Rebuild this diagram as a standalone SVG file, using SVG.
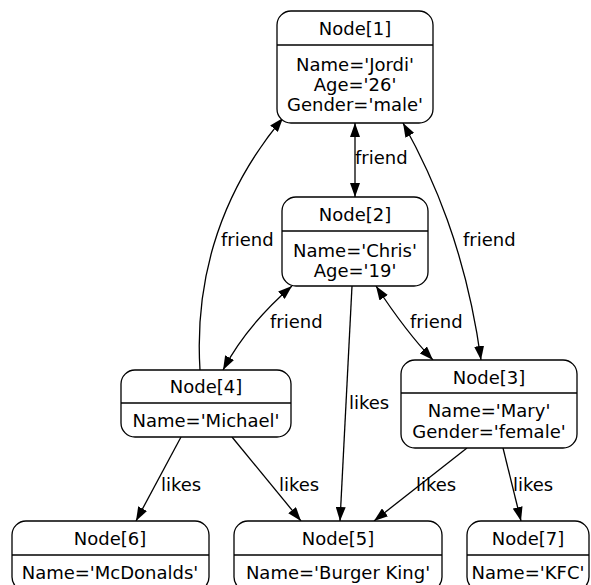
<svg xmlns="http://www.w3.org/2000/svg" width="591" height="585" viewBox="0 0 591 585">
  <style>
    text { font-family: "DejaVu Sans", "Liberation Sans", sans-serif; font-size: 18px; fill: #000; }
    .c { text-anchor: middle; }
    .box { fill: #fff; stroke: #000; stroke-width: 1.3; }
    .sep { stroke: #000; stroke-width: 1.3; }
    .edge { fill: none; stroke: #000; stroke-width: 1.3; }
    .both { marker-start: url(#ah); marker-end: url(#ah); }
    .one { marker-end: url(#ah); }
  </style>
  <defs>
    <marker id="ah" viewBox="0 0 14 10" refX="14" refY="5" markerWidth="14" markerHeight="10" markerUnits="userSpaceOnUse" orient="auto-start-reverse">
      <path d="M0,0 L14,5 L0,10 z" fill="#000"/>
    </marker>
  </defs>
  <rect width="591" height="585" fill="#fff"/>

  <g id="edges">
    <path class="edge both" d="M355,123 L355,197"/>
    <text x="355" y="164">friend</text>
    <path class="edge both" d="M403,123 C432,175 466,250 481,360"/>
    <text x="463" y="246">friend</text>
    <path class="edge one" d="M200,370 C195,290 214,200 283,118"/>
    <text x="221" y="246">friend</text>
    <path class="edge both" d="M292,286 C262,312 240,338 223,370"/>
    <text x="270" y="328">friend</text>
    <path class="edge both" d="M376,286 C395,315 412,338 433,360"/>
    <text x="410" y="328">friend</text>
    <path class="edge one" d="M352,286 L340,521"/>
    <text x="349" y="409">likes</text>
    <path class="edge one" d="M181,437 L136,521"/>
    <text x="161" y="491">likes</text>
    <path class="edge one" d="M232,437 L301,521"/>
    <text x="279" y="491">likes</text>
    <path class="edge one" d="M467,448 L374,521"/>
    <text x="416" y="491">likes</text>
    <path class="edge one" d="M503,448 L521,521"/>
    <text x="513" y="491">likes</text>
  </g>

  <g id="node1">
    <rect class="box" x="277" y="11" width="156" height="112" rx="14"/>
    <line class="sep" x1="277" y1="45" x2="433" y2="45"/>
    <text class="c" x="355" y="35">Node[1]</text>
    <text class="c" x="355" y="71">Name='Jordi'</text>
    <text class="c" x="355" y="91">Age='26'</text>
    <text class="c" x="355" y="111">Gender='male'</text>
  </g>

  <g id="node2">
    <rect class="box" x="282" y="197" width="146" height="89" rx="14"/>
    <line class="sep" x1="282" y1="231" x2="428" y2="231"/>
    <text class="c" x="355" y="221">Node[2]</text>
    <text class="c" x="355" y="257">Name='Chris'</text>
    <text class="c" x="355" y="277">Age='19'</text>
  </g>

  <g id="node3">
    <rect class="box" x="401" y="360" width="176" height="88" rx="14"/>
    <line class="sep" x1="401" y1="393" x2="577" y2="393"/>
    <text class="c" x="489" y="384">Node[3]</text>
    <text class="c" x="489" y="417">Name='Mary'</text>
    <text class="c" x="489" y="438">Gender='female'</text>
  </g>

  <g id="node4">
    <rect class="box" x="121" y="370" width="170" height="67" rx="14"/>
    <line class="sep" x1="121" y1="403" x2="291" y2="403"/>
    <text class="c" x="206" y="393">Node[4]</text>
    <text class="c" x="206" y="427">Name='Michael'</text>
  </g>

  <g id="node5">
    <rect class="box" x="234" y="521" width="208" height="70" rx="14"/>
    <line class="sep" x1="234" y1="555" x2="442" y2="555"/>
    <text class="c" x="338" y="545">Node[5]</text>
    <text class="c" x="338" y="579">Name='Burger King'</text>
  </g>

  <g id="node6">
    <rect class="box" x="12" y="521" width="197" height="70" rx="14"/>
    <line class="sep" x1="12" y1="555" x2="209" y2="555"/>
    <text class="c" x="110" y="545">Node[6]</text>
    <text class="c" x="110" y="579">Name='McDonalds'</text>
  </g>

  <g id="node7">
    <rect class="box" x="467" y="521" width="122" height="70" rx="14"/>
    <line class="sep" x1="467" y1="555" x2="589" y2="555"/>
    <text class="c" x="528" y="545">Node[7]</text>
    <text class="c" x="528" y="579">Name='KFC'</text>
  </g>
</svg>
